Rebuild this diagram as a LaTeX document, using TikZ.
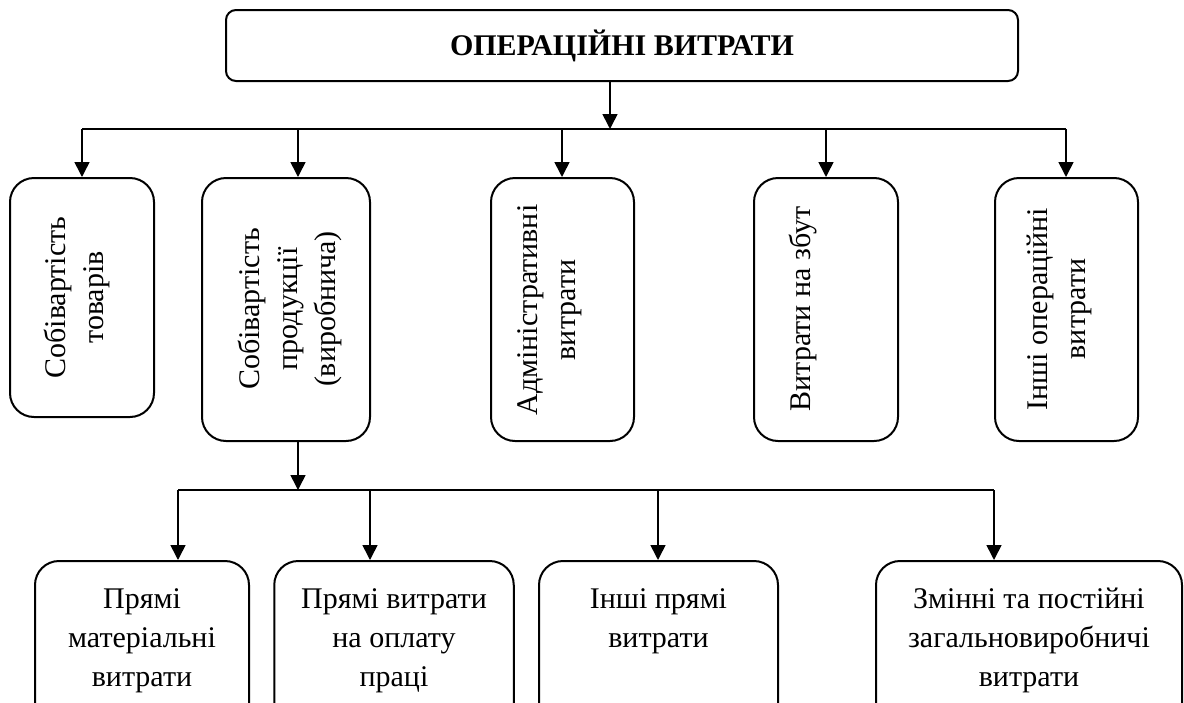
\documentclass[tikz,border=0pt]{standalone}
\usepackage{fontspec}
\setmainfont{Liberation Serif}
\usetikzlibrary{arrows.meta}

\begin{document}
\begin{tikzpicture}[x=0.5pt, y=-0.5pt,
    box/.style={draw, line width=1pt, rounded corners=12pt, inner sep=0pt},
    txt/.style={font=\fontsize{15pt}{19.5pt}\selectfont, align=center, inner sep=0pt},
    vtxt/.style={txt, font=\fontsize{15pt}{19pt}\selectfont, rotate=90},
    arr/.style={-{Triangle[length=7.5pt, width=7.5pt]}, line width=0.8pt},
    bus/.style={line width=0.8pt}]
    \useasboundingbox (0,0) rectangle (1184,702);
    \clip (0,0) rectangle (1184,702);

    \node[box, rounded corners=5pt, minimum width=396pt, minimum height=35.5pt,
      font=\fontsize{15pt}{19pt}\selectfont\bfseries] (top) at (622,45.5) {ОПЕРАЦІЙНІ ВИТРАТИ};

    \node[box, minimum width=72pt, minimum height=119.5pt] (s1) at (82,297.5) {};
    \node[box, minimum width=84pt, minimum height=131.5pt] (s2) at (286,309.5) {};
    \node[box, minimum width=71.5pt, minimum height=131.5pt] (s3) at (562.5,309.5) {};
    \node[box, minimum width=72pt, minimum height=131.5pt] (s4) at (826,309.5) {};
    \node[box, minimum width=71.5pt, minimum height=131.5pt] (s5) at (1066.5,309.5) {};

    \node[vtxt] (l1) at (76.5,297.5) {Собівартість\\товарів};
    \node[vtxt] (l2) at (289.5,309) {Собівартість\\продукції\\(виробнича)};
    \node[vtxt] (l3) at (550,310) {Адміністративні\\витрати};
    \node[vtxt] (l4) at (803,309) {Витрати на збут};
    \node[vtxt] (l5) at (1059.5,309) {Інші операційні\\витрати};

    \node[box, minimum width=107pt, minimum height=99.5pt] (b1) at (142,660.5) {};
    \node[box, minimum width=119.75pt, minimum height=99.5pt] (b2) at (394,660.5) {};
    \node[box, minimum width=119.5pt, minimum height=99.5pt] (b3) at (658.5,660.5) {};
    \node[box, minimum width=153pt, minimum height=99.5pt] (b4) at (1029,660.5) {};

    \node[txt, anchor=north] (m1) at ([yshift=-14pt]b1.north) {Прямі\\матеріальні\\витрати};
    \node[txt, anchor=north] (m2) at ([yshift=-14pt]b2.north) {Прямі витрати\\на оплату\\праці};
    \node[txt, anchor=north] (m3) at ([yshift=-14pt]b3.north) {Інші прямі\\витрати};
    \node[txt, anchor=north] (m4) at ([yshift=-14pt]b4.north) {Змінні та постійні\\загальновиробничі\\витрати};

    \coordinate (j0) at (610,129);
    \coordinate (j1) at (82,129);
    \coordinate (j2) at (298,129);
    \coordinate (j3) at (562,129);
    \coordinate (j4) at (826,129);
    \coordinate (j5) at (1066,129);
    \draw[bus] (j1) -- (j5);
    \draw[arr] (top.south -| j0) -- (j0);
    \foreach \i in {1,...,5}
      \draw[arr] (j\i) -- (j\i |- s\i.north);

    \coordinate (k0) at (298,490);
    \coordinate (k1) at (178,490);
    \coordinate (k2) at (370,490);
    \coordinate (k3) at (658,490);
    \coordinate (k4) at (994,490);
    \draw[bus] (k1) -- (k4);
    \draw[arr] (k0 |- s2.south) -- (k0);
    \foreach \i in {1,...,4}
      \draw[arr] (k\i) -- (k\i |- b\i.north);
\end{tikzpicture}
\end{document}
